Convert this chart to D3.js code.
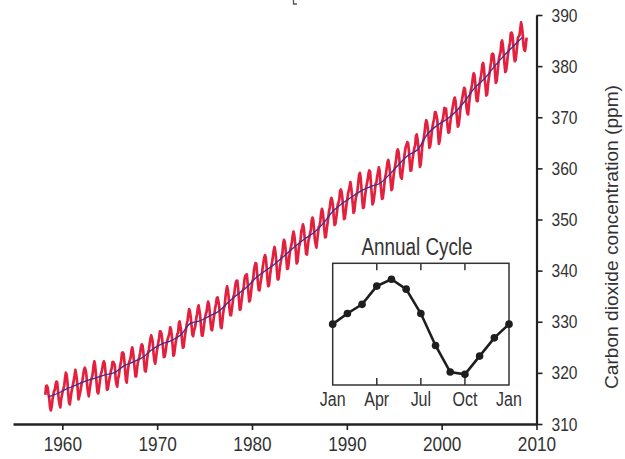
<!DOCTYPE html>
<html>
<head>
<meta charset="utf-8">
<script src="https://d3js.org/d3.v7.min.js"></script>
<style>
  html, body { margin: 0; padding: 0; background: #fff; }
  svg { display: block; }
  text { font-family: "Liberation Sans", Arial, sans-serif; fill: #333; }
</style>
</head>
<body>
<svg id="chart" width="625" height="459"></svg>
<script>
// ---- Data ----
// Monthly CO2 (ppm) at Mauna Loa, starting March 1958, one row per year
const co2StartYear = 1958;
const co2StartMonth = 2; // 0 = Jan, so 2 = March
const co2Monthly = [
  315.71, 317.45, 317.50, 317.10, 315.86, 314.93, 313.20, 312.66, 313.33, 314.67,
  315.62, 316.38, 316.71, 317.72, 318.29, 318.15, 316.54, 314.80, 313.84, 313.26, 314.80, 315.58,
  316.43, 316.97, 317.58, 319.02, 320.03, 319.59, 318.18, 315.91, 314.16, 313.83, 315.00, 316.19,
  316.93, 317.70, 318.54, 319.48, 320.58, 319.77, 318.57, 316.79, 314.80, 315.38, 316.10, 317.01,
  317.94, 318.56, 319.68, 320.63, 321.01, 320.55, 319.58, 317.40, 316.26, 315.42, 316.69, 317.69,
  318.74, 319.08, 319.86, 321.39, 322.25, 321.47, 319.74, 317.77, 316.21, 315.99, 317.12, 318.31,
  319.57, 320.07, 320.73, 321.77, 322.25, 321.89, 320.44, 318.70, 316.70, 316.79, 317.79, 318.71,
  319.44, 320.44, 320.89, 322.13, 322.16, 321.87, 321.39, 318.81, 317.81, 317.30, 318.87, 319.42,
  320.62, 321.59, 322.39, 323.87, 324.01, 323.75, 322.39, 320.37, 318.64, 318.10, 319.79, 321.08,
  322.07, 322.50, 323.04, 324.42, 325.00, 324.09, 322.55, 320.92, 319.31, 319.31, 320.72, 321.96,
  322.57, 323.15, 323.89, 325.02, 325.57, 325.36, 324.14, 322.03, 320.41, 320.25, 321.31, 322.84,
  324.00, 324.42, 325.64, 326.66, 327.34, 326.76, 325.88, 323.67, 322.38, 321.78, 322.85, 324.11,
  325.03, 325.99, 326.87, 328.13, 328.07, 327.66, 326.35, 324.69, 323.10, 323.16, 323.98, 325.13,
  326.17, 326.68, 327.18, 327.78, 328.92, 328.57, 327.34, 325.46, 323.36, 323.57, 324.80, 326.01,
  326.77, 327.63, 327.75, 329.72, 330.07, 329.09, 328.05, 326.32, 324.93, 325.06, 326.50, 327.55,
  328.54, 329.56, 330.30, 331.50, 332.48, 332.07, 330.87, 329.31, 327.51, 327.18, 328.16, 328.64,
  329.35, 330.71, 331.48, 332.65, 333.20, 332.16, 331.07, 329.12, 327.32, 327.28, 328.30, 329.58,
  330.73, 331.46, 331.90, 333.17, 333.94, 333.45, 331.98, 329.95, 328.50, 328.34, 329.37, 330.58,
  331.59, 332.75, 333.52, 334.64, 334.77, 334.00, 333.06, 330.68, 328.95, 328.75, 330.15, 331.62,
  332.66, 333.13, 334.95, 336.13, 336.93, 336.17, 334.88, 332.56, 331.29, 331.27, 332.41, 333.60,
  334.95, 335.25, 336.66, 337.69, 338.03, 338.01, 336.41, 334.41, 332.37, 332.41, 333.75, 334.90,
  336.14, 336.69, 338.27, 338.96, 339.21, 339.26, 337.54, 335.75, 333.98, 334.19, 335.31, 336.81,
  337.90, 338.34, 340.01, 340.93, 341.48, 341.33, 339.40, 337.70, 336.19, 336.15, 337.27, 338.32,
  339.29, 340.55, 341.61, 342.53, 343.03, 342.54, 340.78, 338.44, 336.95, 337.08, 338.58, 339.88,
  340.96, 341.73, 342.81, 343.97, 344.63, 343.79, 342.32, 340.09, 338.28, 338.29, 339.60, 340.90,
  341.68, 342.90, 343.33, 345.25, 346.03, 345.63, 344.19, 342.27, 340.35, 340.38, 341.59, 343.05,
  344.10, 344.79, 345.52, 346.84, 347.63, 346.98, 345.53, 343.55, 341.40, 341.67, 343.10, 344.70,
  345.21, 346.16, 347.74, 348.34, 349.06, 348.38, 346.72, 345.02, 343.27, 343.13, 344.49, 345.88,
  346.56, 347.28, 348.01, 349.77, 350.38, 349.93, 348.16, 346.08, 345.22, 344.51, 345.93, 347.21,
  348.52, 348.73, 349.73, 351.31, 352.09, 351.53, 350.11, 348.08, 346.52, 346.59, 347.96, 349.16,
  350.39, 351.64, 352.40, 353.69, 354.21, 353.72, 352.69, 350.40, 348.92, 349.13, 350.20, 351.41,
  352.91, 353.27, 353.96, 355.64, 355.86, 355.37, 353.99, 351.81, 350.05, 350.25, 351.49, 352.85,
  353.80, 355.04, 355.73, 356.32, 357.32, 356.34, 354.84, 353.01, 351.31, 351.62, 353.07, 354.33,
  354.84, 355.73, 357.23, 358.66, 359.13, 358.13, 356.19, 353.85, 352.25, 352.35, 353.81, 355.12,
  356.25, 357.11, 357.86, 359.09, 359.59, 359.33, 357.01, 354.94, 352.96, 353.32, 354.32, 355.57,
  357.00, 357.31, 358.47, 359.27, 360.19, 359.52, 357.33, 355.64, 354.03, 354.12, 355.41, 356.91,
  358.24, 358.92, 359.99, 361.23, 361.65, 360.81, 359.38, 357.46, 355.73, 356.08, 357.53, 358.98,
  359.92, 360.86, 361.83, 363.30, 363.69, 363.19, 361.64, 359.12, 358.17, 357.99, 359.45, 360.68,
  362.07, 363.24, 364.17, 364.57, 365.13, 364.92, 363.55, 361.38, 359.54, 359.58, 360.89, 362.24,
  363.09, 364.03, 364.51, 366.35, 366.64, 365.59, 364.31, 362.25, 360.29, 360.82, 362.49, 364.38,
  365.27, 365.98, 367.24, 368.66, 369.42, 368.99, 367.82, 365.95, 364.02, 364.40, 365.52, 367.13,
  368.18, 369.07, 369.68, 370.99, 370.96, 370.30, 369.45, 366.90, 364.81, 365.37, 366.72, 368.10,
  369.29, 369.55, 370.60, 371.82, 371.58, 371.70, 369.86, 368.13, 367.00, 367.03, 368.37, 369.67,
  370.59, 371.51, 372.43, 373.37, 373.85, 373.21, 371.51, 369.61, 368.18, 368.45, 369.76, 371.24,
  372.53, 373.20, 374.12, 375.02, 375.76, 375.52, 374.01, 371.85, 370.75, 370.55, 372.25, 373.79,
  374.88, 375.64, 376.45, 377.73, 378.60, 378.28, 376.70, 374.38, 373.17, 373.14, 374.66, 375.99,
  377.00, 377.87, 378.88, 380.35, 380.62, 379.69, 377.47, 376.01, 374.25, 374.46, 376.16, 377.51,
  378.46, 379.73, 380.77, 382.29, 382.45, 382.21, 380.74, 378.74, 376.70, 377.00, 378.35, 380.11,
  381.38, 382.19, 382.67, 384.61, 385.03, 384.05, 382.46, 380.41, 378.85, 379.13, 380.15, 381.82,
  382.89, 383.90, 384.58, 386.50, 386.56, 386.10, 384.50, 381.99, 380.96, 381.12, 382.45, 383.95,
  385.52, 385.82, 386.03, 387.21, 388.54, 387.76, 386.36, 384.09, 383.18, 382.99, 384.19, 385.56
];

// Deseasonalised trend (annual means), 1958 - 2008
const trendYears = d3.range(1958, 2009);
const trendValues = [
  315.3, 315.97, 316.91, 317.64, 318.45, 318.99, 319.62, 320.04, 321.38, 322.16,
  323.04, 324.62, 325.68, 326.32, 327.45, 329.68, 330.18, 331.11, 332.04, 333.83,
  335.40, 336.84, 338.75, 340.11, 341.45, 343.05, 344.65, 346.12, 347.42, 349.19,
  351.57, 353.12, 354.39, 355.61, 356.45, 357.10, 358.83, 360.82, 362.61, 363.73,
  366.70, 368.38, 369.55, 371.14, 373.28, 375.80, 377.52, 379.80, 381.90, 383.79,
  385.60
];

// Inset: annual cycle (ppm anomaly), Jan .. Jan
const cycleMonths = d3.range(0, 13);
const cycleValues = [0.0, 0.7, 1.3, 2.5, 2.95, 2.3, 0.7, -1.4, -3.15, -3.3, -2.1, -0.9, 0.0];
const cycleTickMonths = [0, 3, 6, 9, 12];
const cycleTickLabels = ["Jan", "Apr", "Jul", "Oct", "Jan"];

const yearTicks = [1960, 1970, 1980, 1990, 2000, 2010];
const ppmTicks = [310, 320, 330, 340, 350, 360, 370, 380, 390];

const yAxisTitle = "Carbon dioxide concentration (ppm)";
const insetTitle = "Annual Cycle";

// ---- Drawing ----
const svg = d3.select("#chart");
const axisColor = "#222";
const NARROW = 0.82;

// emulate a condensed face by compressing the glyphs horizontally
function narrow(sel, factor) {
  sel.each(function () {
    const L = this.getComputedTextLength();
    d3.select(this).attr("textLength", L * factor).attr("lengthAdjust", "spacingAndGlyphs");
  });
}

const x = d3.scaleLinear().domain([1954.8, 2010]).range([13, 536.5]);
const y = d3.scaleLinear().domain([310, 390]).range([424, 15]);

const monthlyPts = co2Monthly.map((v, i) => {
  const idx = co2StartMonth + i;
  return { t: co2StartYear + Math.floor(idx / 12) + ((idx % 12) + 0.5) / 12, v };
});
const trendPts = trendYears.map((yr, i) => ({ t: yr + 0.5, v: trendValues[i] }));

// tiny clipped mark at the top edge (fragment of a bracket above the chart)
svg.append("path").attr("d", "M293.5,0 V4 H297").attr("fill", "none")
  .attr("stroke", "#555").attr("stroke-width", 1.3);

// monthly red curve
svg.append("path").datum(monthlyPts)
  .attr("fill", "none").attr("stroke", "#e3213f").attr("stroke-width", 2.7)
  .attr("stroke-linejoin", "round")
  .attr("d", d3.line().x(d => x(d.t)).y(d => y(d.v)));

// trend blue line
svg.append("path").datum(trendPts)
  .attr("fill", "none").attr("stroke", "#3a2f8f").attr("stroke-width", 1.3)
  .attr("d", d3.line().curve(d3.curveMonotoneX).x(d => x(d.t)).y(d => y(d.v)));

// bottom axis
const xAxis = d3.axisBottom(x).tickValues(yearTicks).tickFormat(d3.format("d"))
  .tickSize(6).tickSizeOuter(0).tickPadding(6);
const gx = svg.append("g").attr("transform", "translate(0,424)").call(xAxis);
gx.select(".domain").attr("stroke", axisColor).attr("stroke-width", 2.6);
gx.selectAll(".tick line").attr("stroke", axisColor).attr("stroke-width", 1.6);
gx.selectAll(".tick text").attr("font-size", 21).attr("fill", "#333")
  .style("font-family", "'Liberation Sans', Arial, sans-serif");
narrow(gx.selectAll(".tick text"), NARROW);

// right axis
const yAxis = d3.axisRight(y).tickValues(ppmTicks).tickFormat(d3.format("d"))
  .tickSize(6).tickSizeOuter(0).tickPadding(9);
const gy = svg.append("g").attr("transform", "translate(536.5,0)").call(yAxis);
gy.select(".domain").attr("stroke", axisColor).attr("stroke-width", 2.2);
gy.selectAll(".tick line").attr("stroke", axisColor).attr("stroke-width", 1.6);
gy.selectAll(".tick text").attr("font-size", 19).attr("fill", "#333")
  .style("font-family", "'Liberation Sans', Arial, sans-serif");
narrow(gy.selectAll(".tick text"), NARROW);

// y axis title
svg.append("text")
  .attr("transform", "translate(618,237) rotate(-90)")
  .attr("text-anchor", "middle")
  .attr("font-size", 19)
  .attr("textLength", 304).attr("lengthAdjust", "spacingAndGlyphs")
  .text(yAxisTitle);

// ---- Inset ----
const ix = d3.scaleLinear().domain([0, 12]).range([332.7, 509]);
const iy = d3.scaleLinear().domain([-4, 4]).range([385, 263.3]);

const inset = svg.append("g");
inset.append("rect")
  .attr("x", ix(0)).attr("y", iy(4))
  .attr("width", ix(12) - ix(0)).attr("height", iy(-4) - iy(4))
  .attr("fill", "#fff").attr("stroke", "#333").attr("stroke-width", 1.5);

// inner ticks top and bottom
const innerTicks = cycleTickMonths.filter(m => m > 0 && m < 12);
inset.selectAll("line.tb").data(innerTicks).join("line").attr("class", "tb")
  .attr("x1", d => ix(d)).attr("x2", d => ix(d))
  .attr("y1", iy(-4)).attr("y2", iy(-4) - 7)
  .attr("stroke", "#333").attr("stroke-width", 1.5);
inset.selectAll("line.tt").data(innerTicks).join("line").attr("class", "tt")
  .attr("x1", d => ix(d)).attr("x2", d => ix(d))
  .attr("y1", iy(4)).attr("y2", iy(4) + 7)
  .attr("stroke", "#333").attr("stroke-width", 1.5);

const monthText = inset.selectAll("text.ml").data(cycleTickMonths).join("text")
  .attr("class", "ml")
  .attr("x", d => ix(d)).attr("y", 406)
  .attr("text-anchor", "middle").attr("font-size", 19.5)
  .text((d, i) => cycleTickLabels[i]);
narrow(monthText, NARROW);

const titleText = inset.append("text")
  .attr("x", 417).attr("y", 255)
  .attr("text-anchor", "middle").attr("font-size", 23)
  .text(insetTitle);
narrow(titleText, NARROW);

const cyclePts = cycleMonths.map((m, i) => ({ m, v: cycleValues[i] }));
inset.append("path").datum(cyclePts)
  .attr("fill", "none").attr("stroke", "#1e1e1e").attr("stroke-width", 2.6)
  .attr("d", d3.line().x(d => ix(d.m)).y(d => iy(d.v)));
inset.selectAll("circle").data(cyclePts).join("circle")
  .attr("cx", d => ix(d.m)).attr("cy", d => iy(d.v)).attr("r", 3.8)
  .attr("fill", "#1e1e1e");
</script>
</body>
</html>
